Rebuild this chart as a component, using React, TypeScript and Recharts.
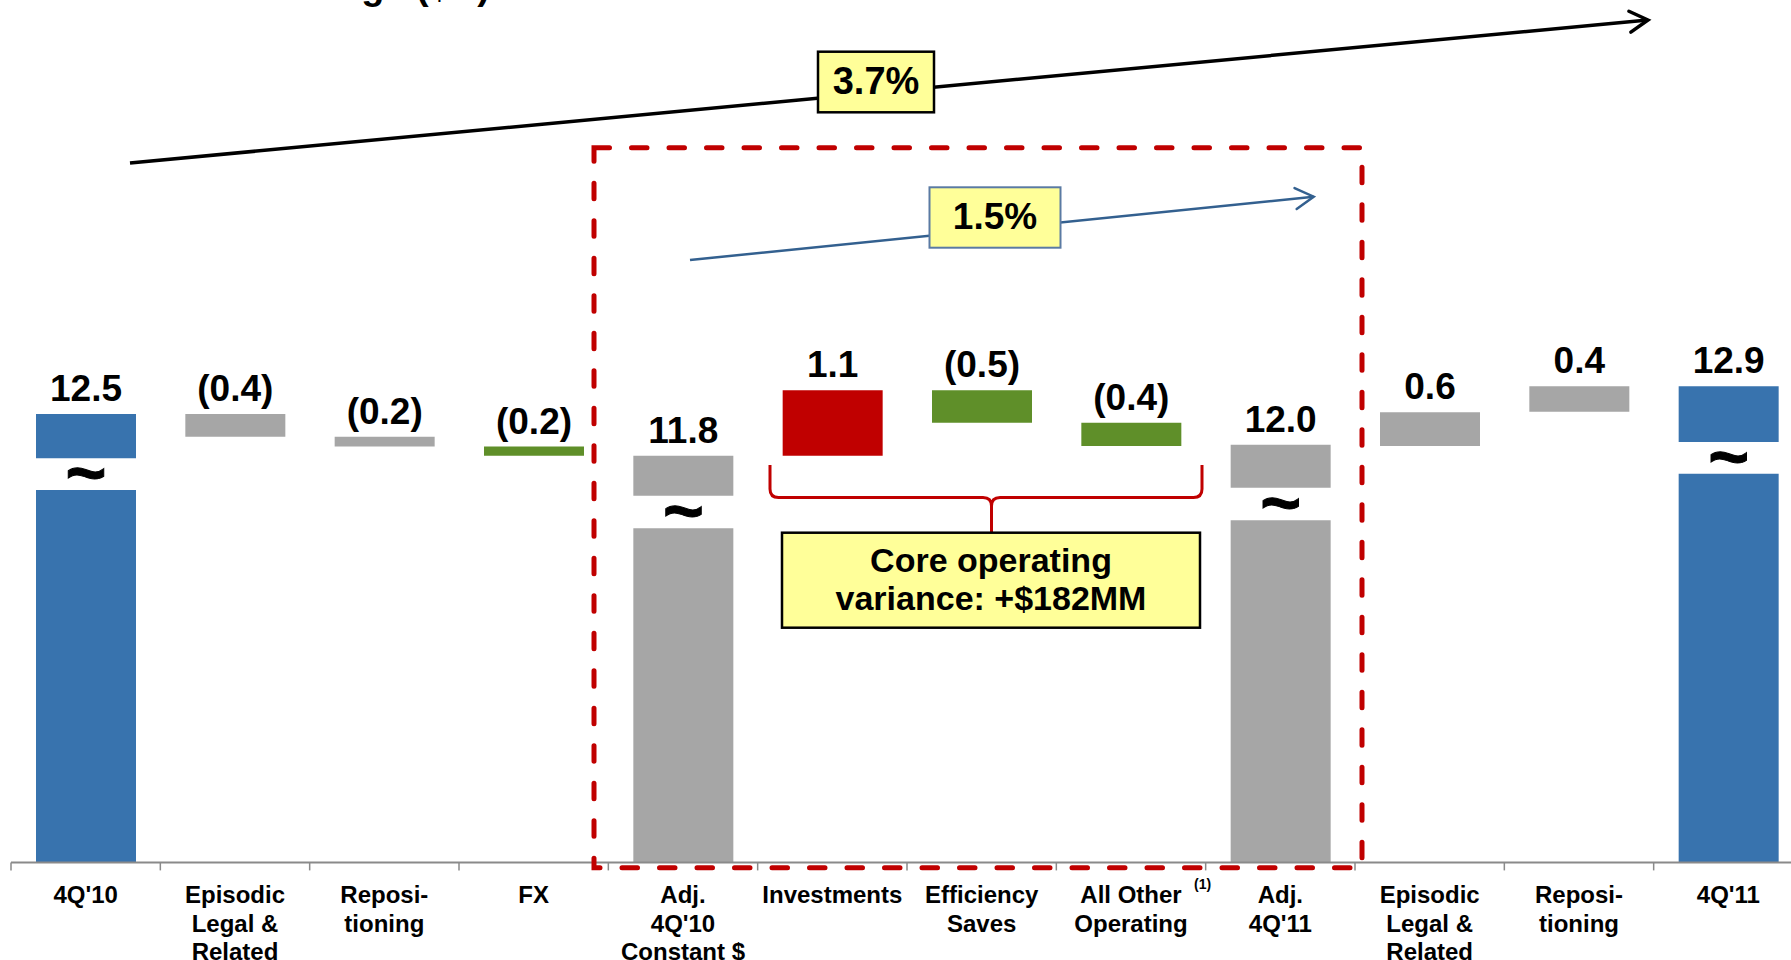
import React from 'react';
import { BarChart, Bar, XAxis, YAxis, Cell, LabelList } from 'recharts';

// ---------------- data ----------------
const categories = [
  "4Q'10",
  "Episodic\nLegal &\nRelated",
  "Reposi-\ntioning",
  "FX",
  "Adj.\n4Q'10\nConstant $",
  "Investments",
  "Efficiency\nSaves",
  "All Other\nOperating",
  "Adj.\n4Q'11",
  "Episodic\nLegal &\nRelated",
  "Reposi-\ntioning",
  "4Q'11",
];
const footnoteIndex = 7;
const footnoteMark = "(1)";
const valueLabels = ["12.5", "(0.4)", "(0.2)", "(0.2)", "11.8", "1.1", "(0.5)", "(0.4)", "12.0", "0.6", "0.4", "12.9"];
const barKinds = ["total", "charge", "charge", "fx", "adjusted", "investment", "saving", "saving", "adjusted", "charge", "charge", "total"];
// bar extents ($B) as drawn
const barLow = [0, 12.11, 11.94, 11.78, 0, 11.78, 12.35, 11.95, 0, 11.95, 12.54, 0];
const barHigh = [12.5, 12.5, 12.11, 11.94, 11.78, 12.91, 12.91, 12.35, 11.97, 12.53, 12.98, 12.98];
// axis-break gaps on the full-height bars
const breakLow: (number | null)[] = [11.19, null, null, null, 10.53, null, null, null, 10.67, null, null, 11.47];
const breakHigh: (number | null)[] = [11.74, null, null, null, 11.09, null, null, null, 11.23, null, null, 12.02];
const yDomain: [number, number] = [4.77, 19.64];

const title = "Total Cost Change ($B)";
const totalGrowth = "3.7%";
const coreGrowth = "1.5%";
const coreNote = ["Core operating", "variance: +$182MM"];

// ---------------- styles ----------------
const FONT = "'Liberation Sans', Arial, Helvetica, sans-serif";
const COLORS: Record<string, string> = {
  total: "#3873AE",
  charge: "#A6A6A6",
  adjusted: "#A6A6A6",
  fx: "#5F8F29",
  saving: "#5F8F29",
  investment: "#C00000",
};
const AXIS = "#8A8A8A";
const RED = "#C00000";
const NOTE_FILL = "#FFFF99";
const BLUE_ARROW = "#33608F";

const data = categories.map((name, i) => {
  const isTotal = breakLow[i] != null;
  const base = isTotal ? (breakLow[i] as number) : barLow[i];
  const gap = isTotal ? (breakHigh[i] as number) - (breakLow[i] as number) : 0;
  const top = isTotal ? barHigh[i] - (breakHigh[i] as number) : barHigh[i] - barLow[i];
  return { name, base, gap, top, label: valueLabels[i], kind: barKinds[i], isTotal };
});

function boxOf(p: any) {
  const vb = p.viewBox && p.viewBox.width != null ? p.viewBox : p;
  return { x: Number(vb.x), y: Number(vb.y), width: Number(vb.width), height: Number(vb.height) };
}

const renderValue = (p: any) => {
  const { x, y, width } = boxOf(p);
  const i = p.index;
  return (
    <text
      key={`v${i}`}
      x={x + width / 2}
      y={y - 13}
      textAnchor="middle"
      fontFamily={FONT}
      fontWeight="bold"
      fontSize={37}
      fill="#000"
    >
      {p.value != null ? p.value : valueLabels[i]}
    </text>
  );
};

const renderBreak = (p: any) => {
  const { x, y, width, height } = boxOf(p);
  const v = Number(p.value);
  if (!(v > 0) || !(Math.abs(height) > 1)) return null;
  return (
    <text
      key={`b${p.index}`}
      x={x + width / 2}
      y={y + height / 2 + 23}
      textAnchor="middle"
      fontFamily={FONT}
      fontWeight="bold"
      fontSize={70}
      fill="#000"
      stroke="#000"
      strokeWidth={1}
    >
      ~
    </text>
  );
};

const renderTick = (p: any) => {
  const { x, y, payload } = p;
  const i = payload && payload.index != null ? payload.index : p.index;
  const half = payload && payload.offset ? payload.offset : 1792 / categories.length / 2;
  const lines = categories[i].split("\n");
  return (
    <g key={`t${i}`}>
      <line x1={x - half} x2={x - half} y1={y} y2={y + 8} stroke={AXIS} strokeWidth={1.5} />
      {i === categories.length - 1 && (
        <line x1={x + half} x2={x + half} y1={y} y2={y + 8} stroke={AXIS} strokeWidth={1.5} />
      )}
      <text x={x} y={y + 41} textAnchor="middle" fontFamily={FONT} fontWeight="bold" fontSize={24} fill="#000">
        {lines.map((l, k) => (
          <tspan key={k} x={x} dy={k === 0 ? 0 : 28.3}>
            {l}
          </tspan>
        ))}
      </text>
      {i === footnoteIndex && (
        <text x={x + 63} y={y + 27} fontFamily={FONT} fontWeight="bold" fontSize={14} fill="#000">
          {footnoteMark}
        </text>
      )}
    </g>
  );
};

function Arrow(props: { x1: number; y1: number; x2: number; y2: number; color: string; w: number; head: number }) {
  const { x1, y1, x2, y2, color, w, head } = props;
  const ang = Math.atan2(y2 - y1, x2 - x1);
  const a = Math.PI / 6;
  const p1 = [x2 + head * Math.cos(ang + Math.PI - a), y2 + head * Math.sin(ang + Math.PI - a)];
  const p2 = [x2 + head * Math.cos(ang + Math.PI + a), y2 + head * Math.sin(ang + Math.PI + a)];
  return (
    <g>
      <line x1={x1} y1={y1} x2={x2} y2={y2} stroke={color} strokeWidth={w} />
      <polyline
        points={`${p1[0]},${p1[1]} ${x2},${y2} ${p2[0]},${p2[1]}`}
        fill="none"
        stroke={color}
        strokeWidth={w}
        strokeLinecap="round"
        strokeLinejoin="miter"
      />
    </g>
  );
}

export default function App() {
  return (
    <div style={{ position: "relative", width: 1791, height: 960, overflow: "hidden", background: "#fff" }}>
      <style>{"html,body{margin:0;padding:0;overflow:hidden;background:#fff}"}</style>
      <BarChart
        width={1803}
        height={960}
        data={data}
        margin={{ top: 0, right: 0, bottom: 0, left: 11 }}
        barSize={100}
      >
        <YAxis hide type="number" domain={yDomain} allowDataOverflow />
        <XAxis
          dataKey="name"
          height={97.6}
          interval={0}
          axisLine={{ stroke: AXIS, strokeWidth: 2 }}
          tickLine={false}
          tickSize={0}
          tickMargin={0}
          tick={renderTick}
        />
        <Bar dataKey="base" stackId="w" isAnimationActive={false}>
          {data.map((d, i) => (
            <Cell key={i} fill={d.isTotal ? COLORS[d.kind] : "transparent"} />
          ))}
        </Bar>
        <Bar dataKey="gap" stackId="w" fill="transparent" isAnimationActive={false}>
          <LabelList dataKey="gap" content={renderBreak} />
        </Bar>
        <Bar dataKey="top" stackId="w" isAnimationActive={false}>
          {data.map((d, i) => (
            <Cell key={i} fill={COLORS[d.kind]} />
          ))}
          <LabelList dataKey="label" content={renderValue} />
        </Bar>
      </BarChart>

      <svg
        width={1791}
        height={960}
        style={{ position: "absolute", left: 0, top: 0, pointerEvents: "none" }}
      >
        {/* cut-off title */}
        <text x={490} y={-1} textAnchor="end" fontFamily={FONT} fontWeight="bold" fontSize={38} fill="#000">
          {title}
        </text>

        {/* overall growth arrow */}
        <Arrow x1={130} y1={163} x2={1648} y2={20} color="#000" w={3.5} head={21} />
        <rect x={818} y={51.7} width={116} height={60.6} fill={NOTE_FILL} stroke="#000" strokeWidth={2.5} />
        <text x={876} y={94} textAnchor="middle" fontFamily={FONT} fontWeight="bold" fontSize={38} fill="#000">
          {totalGrowth}
        </text>

        {/* core dashed frame */}
        <rect
          x={594}
          y={147.7}
          width={768}
          height={720}
          fill="none"
          stroke={RED}
          strokeWidth={5}
          strokeDasharray="15.5 22"
          strokeLinecap="round"
        />

        {/* core growth arrow */}
        <Arrow x1={690} y1={260} x2={1313.7} y2={196.7} color={BLUE_ARROW} w={2.5} head={21} />
        <rect x={929.5} y={187.3} width={131} height={60.4} fill={NOTE_FILL} stroke="#5A7AA3" strokeWidth={2} />
        <text x={995} y={229} textAnchor="middle" fontFamily={FONT} fontWeight="bold" fontSize={37} fill="#000">
          {coreGrowth}
        </text>

        {/* brace */}
        <path
          d="M 770 465 L 770 489 Q 770 497.5 778.5 497.5 L 983 497.5 Q 991.5 497.5 991.5 506 L 991.5 533 M 991.5 506 Q 991.5 497.5 1000 497.5 L 1193.5 497.5 Q 1202 497.5 1202 489 L 1202 465"
          fill="none"
          stroke={RED}
          strokeWidth={3}
        />
        <rect x={782} y={532.7} width={418} height={95} fill={NOTE_FILL} stroke="#000" strokeWidth={2.5} />
        <text textAnchor="middle" fontFamily={FONT} fontWeight="bold" fontSize={34} fill="#000">
          <tspan x={991} y={571.5}>{coreNote[0]}</tspan>
          <tspan x={991} y={610}>{coreNote[1]}</tspan>
        </text>
      </svg>
    </div>
  );
}
